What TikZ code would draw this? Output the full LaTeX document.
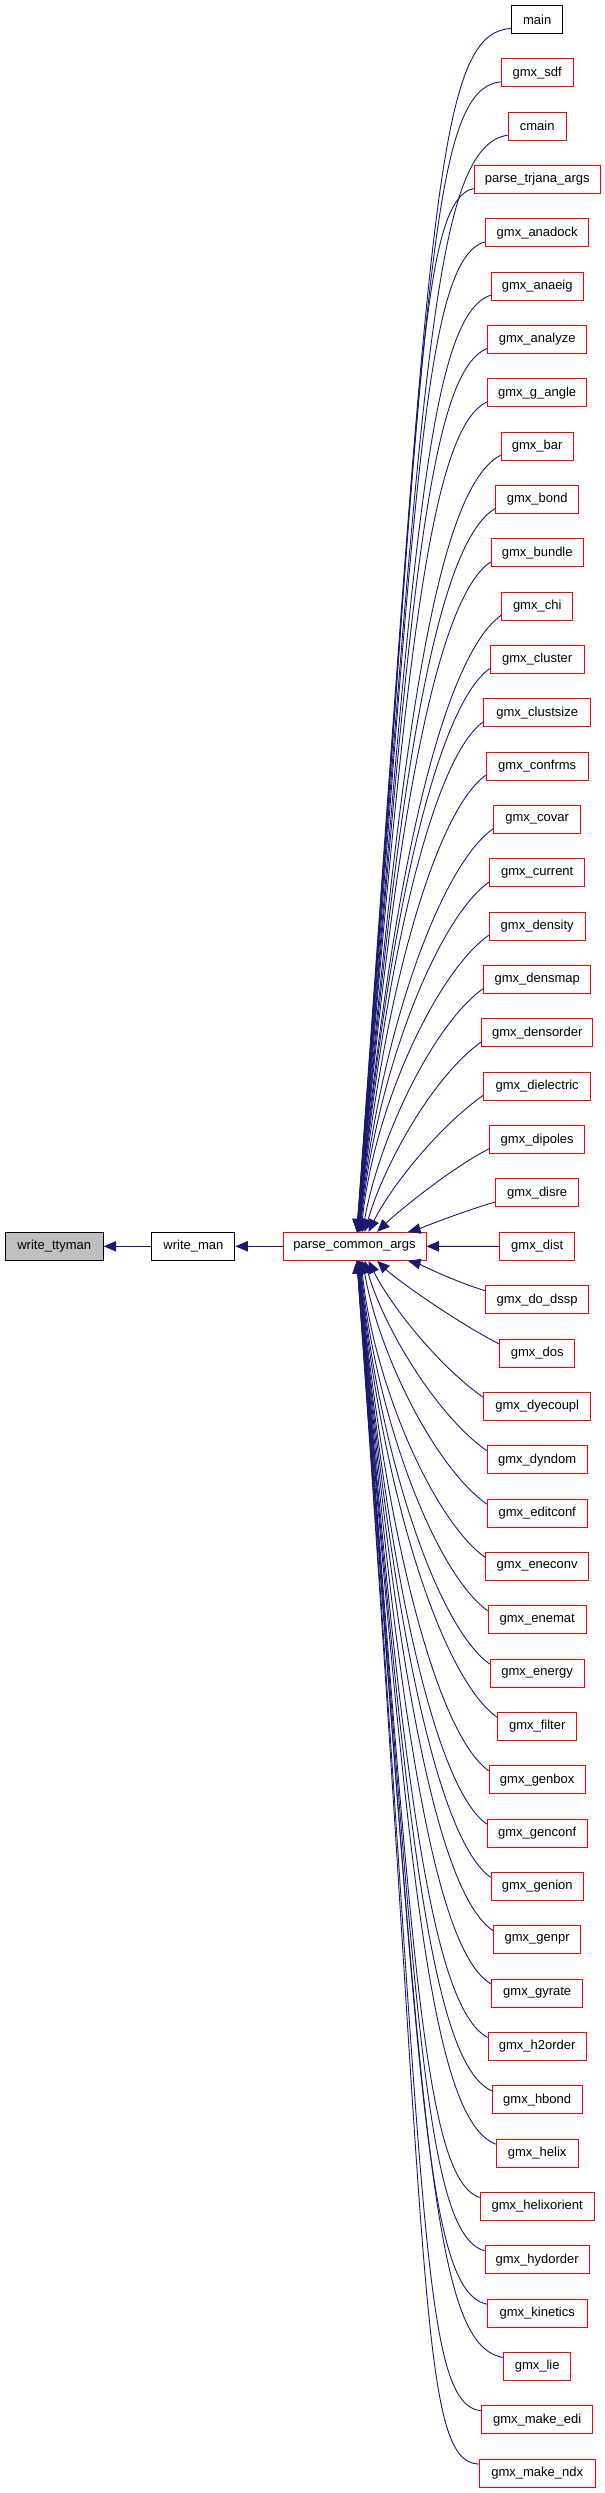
\documentclass[tikz,border=0pt]{standalone}
\usepackage{fontspec}
\setmainfont{Liberation Sans}
\usetikzlibrary{arrows.meta,calc}
\definecolor{edgeblue}{HTML}{191970}
\definecolor{boxred}{HTML}{FF0000}
\definecolor{grayfill}{HTML}{BFBFBF}
\tikzset{
  fnbox/.style={draw, line width=1pt, minimum height=28pt, inner xsep=0pt, inner ysep=0pt,
    font=\fontsize{13}{15}\selectfont, anchor=center},
  redbox/.style={fnbox, draw=boxred},
  blackbox/.style={fnbox, draw=black},
  edge/.style={draw=edgeblue, line width=0.9pt, -{Triangle[length=12.5pt,width=10.5pt]}}
}
\begin{document}
\begin{tikzpicture}[x=1pt,y=-1pt]
\useasboundingbox[fill=white] (0,0) rectangle (605,2493);
\node[blackbox, fill=grayfill, minimum width=98pt] (wtty) at (54.2,1246.3) {write\_ttyman};
\node[blackbox, minimum width=83pt] (wman) at (193.4,1246.3) {write\_man};
\node[redbox, minimum width=143pt] (pca) at (354.5,1246.3) {parse\_common\_args};
\draw[edge] (wman) -- (wtty);
\draw[edge] (pca) -- (wman);
\foreach \nm/\w/\st [count=\i] in {
  main/51/blackbox, gmx\_sdf/72/redbox, cmain/58/redbox, parse\_trjana\_args/126/redbox,
  gmx\_anadock/103/redbox, gmx\_anaeig/92/redbox, gmx\_analyze/99/redbox, gmx\_g\_angle/99/redbox,
  gmx\_bar/72/redbox, gmx\_bond/83/redbox, gmx\_bundle/92/redbox, gmx\_chi/71/redbox,
  gmx\_cluster/94/redbox, gmx\_clustsize/107/redbox, gmx\_confrms/102/redbox, gmx\_covar/87/redbox,
  gmx\_current/95/redbox, gmx\_density/96/redbox, gmx\_densmap/107/redbox, gmx\_densorder/111/redbox,
  gmx\_dielectric/107/redbox, gmx\_dipoles/95/redbox, gmx\_disre/83/redbox, gmx\_dist/75/redbox,
  gmx\_do\_dssp/103/redbox, gmx\_dos/75/redbox, gmx\_dyecoupl/107/redbox, gmx\_dyndom/100/redbox,
  gmx\_editconf/100/redbox, gmx\_eneconv/103/redbox, gmx\_enemat/98/redbox, gmx\_energy/94/redbox,
  gmx\_filter/79/redbox, gmx\_genbox/96/redbox, gmx\_genconf/100/redbox, gmx\_genion/92/redbox,
  gmx\_genpr/87/redbox, gmx\_gyrate/91/redbox, gmx\_h2order/98/redbox, gmx\_hbond/90/redbox,
  gmx\_helix/82/redbox, gmx\_helixorient/114/redbox, gmx\_hydorder/104/redbox, gmx\_kinetics/100/redbox,
  gmx\_lie/67/redbox, gmx\_make\_edi/111/redbox, gmx\_make\_ndx/116/redbox} {
  \pgfmathsetmacro{\yc}{19.5+(\i-1)*53.34}
  \node[\st, minimum width=\w pt] (r\i) at (537.2,\yc) {\nm};
  \ifnum\i=24
    \draw[edge] (r\i) -- (pca);
  \else
    \ifnum\i<24
      \pgfmathsetmacro{\n}{\i}
      \pgfmathsetmacro{\dd}{24-\i}
    \else
      \pgfmathsetmacro{\n}{48-\i}
      \pgfmathsetmacro{\dd}{\i-24}
    \fi
    \pgfmathsetmacro{\ex}{356+52/(\dd^1.3)}
    \pgfmathsetmacro{\xo}{\ex-354.5}
    \pgfmathsetmacro{\sx}{537.2-\w/2}
    \pgfmathsetmacro{\sy}{\yc+(\i<24 ? 9 : -9)}
    \pgfmathsetmacro{\ey}{\i<24 ? 1232.3 : 1260.3}
    \pgfmathsetmacro{\dx}{\sx-\ex}
    \pgfmathsetmacro{\dy}{abs(\ey-\sy)}
    \pgfmathsetmacro{\pa}{\n<=21 ? min(35,3*\n) : (\n==22 ? 27 : 16)}
    \pgfmathsetmacro{\pb}{\n<=18 ? 4+0.1*\n : (\n==19 ? 10 : (\n==20 ? 16 : (\n==21 ? 26 : (\n==22 ? 45 : 72))))}
    \pgfmathsetmacro{\la}{(\n<=21 ? 0.5 : 0.4)*\dx}
    \pgfmathsetmacro{\lb}{\dy*max(0.3,0.85-0.025*(\n-1))}
    \pgfmathsetmacro{\sg}{\i<24 ? 1 : -1}
    \pgfmathsetmacro{\cax}{\sx-\la*cos(\pa)}
    \pgfmathsetmacro{\cay}{\sy+\sg*\la*sin(\pa)}
    \pgfmathsetmacro{\cbx}{\ex+\lb*sin(\pb)}
    \pgfmathsetmacro{\cby}{\ey-\sg*\lb*cos(\pb)}
    \ifnum\i<24
      \draw[edge] ([yshift=-9pt]r\i.west) .. controls (\cax,\cay) and (\cbx,\cby) .. ([xshift=\xo pt]pca.north);
    \else
      \draw[edge] ([yshift=9pt]r\i.west) .. controls (\cax,\cay) and (\cbx,\cby) .. ([xshift=\xo pt]pca.south);
    \fi
  \fi
}
\end{tikzpicture}
\end{document}
